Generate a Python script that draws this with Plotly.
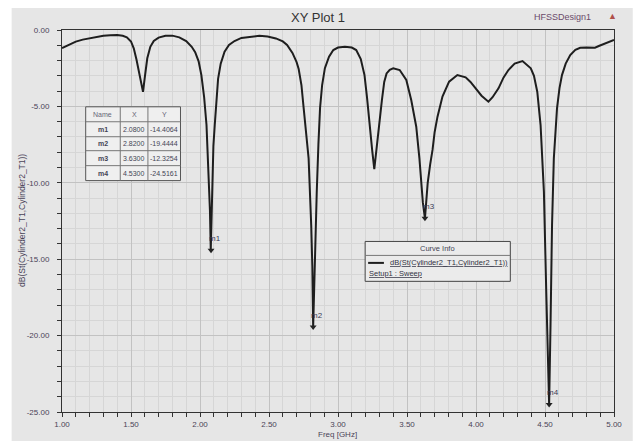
import plotly.graph_objects as go

# ---- data ----
freq_ghz = [1.00, 1.05, 1.10, 1.15, 1.20, 1.25, 1.30, 1.35, 1.40, 1.44, 1.47, 1.50, 1.52, 1.54, 1.56,
            1.575, 1.587, 1.60, 1.618, 1.64, 1.665, 1.70, 1.75, 1.80, 1.85, 1.90, 1.94, 1.965, 1.99,
            2.01, 2.03, 2.047, 2.064, 2.072, 2.078, 2.083, 2.088, 2.097, 2.107, 2.12, 2.131, 2.15,
            2.178, 2.21, 2.25, 2.30, 2.37, 2.43, 2.49, 2.55, 2.60, 2.631, 2.67, 2.70, 2.715, 2.735,
            2.751, 2.77, 2.787, 2.806, 2.814, 2.82, 2.826, 2.834, 2.846, 2.858, 2.87, 2.885, 2.905,
            2.935, 2.966, 3.00, 3.05, 3.10, 3.132, 3.165, 3.192, 3.21, 3.228, 3.248, 3.263, 3.28,
            3.30, 3.318, 3.335, 3.352, 3.375, 3.40, 3.447, 3.495, 3.531, 3.567, 3.59, 3.602, 3.615,
            3.63, 3.64, 3.65, 3.668, 3.685, 3.70, 3.721, 3.757, 3.805, 3.865, 3.925, 3.96, 3.996,
            4.04, 4.09, 4.12, 4.163, 4.20, 4.235, 4.28, 4.337, 4.397, 4.42, 4.444, 4.468, 4.492,
            4.509, 4.523, 4.53, 4.54, 4.551, 4.564, 4.575, 4.587, 4.605, 4.623, 4.65, 4.683, 4.72,
            4.755, 4.80, 4.862, 4.89, 4.921, 4.96, 5.00]
s11_db = [-1.18, -0.95, -0.76, -0.63, -0.54, -0.45, -0.38, -0.34, -0.33, -0.38, -0.48, -0.75, -1.2,
          -1.95, -2.8, -3.5, -4.05, -3.1, -1.85, -1.1, -0.72, -0.50, -0.38, -0.37, -0.48, -0.72,
          -1.10, -1.45, -2.05, -2.95, -4.4, -6.2, -9.5, -11.8, -14.41, -12.2, -9.5, -7.6, -6.2,
          -4.4, -3.2, -2.2, -1.42, -0.98, -0.72, -0.52, -0.42, -0.38, -0.43, -0.55, -0.75, -0.98,
          -1.5, -2.1, -2.55, -3.6, -5.1, -6.8, -8.4, -12.8, -15.5, -19.44, -17.0, -14.9, -10.6,
          -7.5, -5.1, -3.6, -2.5, -1.75, -1.31, -1.15, -1.09, -1.15, -1.31, -1.9, -2.95, -4.4,
          -6.2, -7.9, -9.1, -7.6, -6.2, -4.6, -3.4, -2.84, -2.6, -2.51, -2.62, -3.27, -4.6, -6.33,
          -8.4, -10.0, -11.3, -12.33, -11.2, -10.0, -8.8, -7.85, -6.7, -5.67, -4.35, -3.38, -2.95,
          -3.1, -3.4, -3.82, -4.3, -4.69, -4.4, -3.82, -3.1, -2.62, -2.2, -2.03, -2.51, -3.0,
          -4.04, -6.22, -10.58, -17.1, -21.5, -24.52, -19.3, -12.76, -8.4, -6.6, -5.13, -3.8,
          -2.95, -2.2, -1.64, -1.3, -1.16, -1.15, -1.16, -1.05, -0.94, -0.8, -0.65]

marker_names = ["m1", "m2", "m3", "m4"]
marker_x = [2.0800, 2.8200, 3.6300, 4.5300]
marker_y = [-14.4064, -19.4444, -12.3254, -24.5161]

x_ticks = [1.00, 1.50, 2.00, 2.50, 3.00, 3.50, 4.00, 4.50, 5.00]
y_ticks = [0.00, -5.00, -10.00, -15.00, -20.00, -25.00]

trace_name = "dB(St(Cylinder2_T1,Cylinder2_T1))"
sweep_name = "Setup1 : Sweep"

# ---- layout helpers (pixel -> paper) ----
W, H = 634, 441
L, R, T, B = 62, 621, 30, 413
def PX(x):
    return (x - L) / (R - L)
def PY(y):
    return (B - y) / (B - T)

FONT = "Liberation Sans, Arial, sans-serif"
TXT = "#4a4458"

fig = go.Figure()
fig.add_trace(go.Scatter(x=freq_ghz, y=s11_db, mode="lines",
                         line=dict(color="#1e1e1e", width=2), showlegend=False,
                         hoverinfo="x+y"))
fig.add_trace(go.Scatter(x=marker_x, y=marker_y, mode="markers",
                         marker=dict(symbol="triangle-down", size=6, color="#222222"),
                         showlegend=False))

shapes = []
ann = []

def text(px, py, t, size, color, xanchor="center", angle=0):
    ann.append(dict(x=PX(px), y=PY(py), xref="paper", yref="paper", text=t,
                    showarrow=False, xanchor=xanchor, yanchor="middle", textangle=angle,
                    font=dict(size=size, color=color, family=FONT)))

# outer gray background
shapes.append(dict(type="rect", xref="paper", yref="paper", x0=PX(11), x1=PX(640),
                   y0=PY(445), y1=PY(8), fillcolor="#e6e6e6", line=dict(width=0), layer="below"))

# marker labels
for n, x, y in zip(marker_names, marker_x, marker_y):
    ann.append(dict(x=x, y=y, xref="x", yref="y", text=n, showarrow=False,
                    xanchor="left", yanchor="middle", xshift=-4, yshift=12,
                    font=dict(size=8, color="#3a3a55", family=FONT)))

# marker table
cols = [86, 121, 149, 182]
rows = [107, 122, 137, 151, 166, 181]
shapes.append(dict(type="rect", xref="paper", yref="paper", x0=PX(cols[0]), x1=PX(cols[-1]),
                   y0=PY(rows[-1]), y1=PY(rows[0]), fillcolor="#efefef",
                   line=dict(color="#555555", width=1)))
for c in cols[1:-1]:
    shapes.append(dict(type="line", xref="paper", yref="paper", x0=PX(c), x1=PX(c),
                       y0=PY(rows[-1]), y1=PY(rows[0]), line=dict(color="#777777", width=1)))
for r in rows[1:-1]:
    shapes.append(dict(type="line", xref="paper", yref="paper", x0=PX(cols[0]), x1=PX(cols[-1]),
                       y0=PY(r), y1=PY(r), line=dict(color="#777777", width=1)))
headers = ["Name", "X", "Y"]
for i, h in enumerate(headers):
    text((cols[i] + cols[i + 1]) / 2, (rows[0] + rows[1]) / 2, h, 7, "#666677")
for j, (n, x, y) in enumerate(zip(marker_names, marker_x, marker_y)):
    yc = (rows[j + 1] + rows[j + 2]) / 2
    vals = [f"<b>{n}</b>", f"{x:.4f}", f"{y:.4f}"]
    for i, v in enumerate(vals):
        text((cols[i] + cols[i + 1]) / 2, yc, v, 7, "#444455")

# curve info box
shapes.append(dict(type="rect", xref="paper", yref="paper", x0=PX(369), x1=PX(516),
                   y0=PY(282), y1=PY(242), fillcolor="#ebebeb",
                   line=dict(color="#444444", width=1)))
shapes.append(dict(type="line", xref="paper", yref="paper", x0=PX(369), x1=PX(516),
                   y0=PY(256), y1=PY(256), line=dict(color="#777777", width=1)))
shapes.append(dict(type="line", xref="paper", yref="paper", x0=PX(372), x1=PX(388),
                   y0=PY(263.5), y1=PY(263.5), line=dict(color="#1e1e1e", width=2)))
text(442, 249, "Curve Info", 7.5, "#444455")
text(392, 263.5, f"<u>{trace_name}</u>", 7.5, "#333344", xanchor="left")
text(371, 274, f"<u>{sweep_name}</u>", 7.5, "#333344", xanchor="left")

# title & design name
text(321, 17, "XY Plot 1", 13, "#333333")
text(600, 17, "HFSSDesign1", 9, "#6a4a6a", xanchor="right")
text(619, 16, "▲", 9, "#b0504a")

# axis titles
text(341, 435.5, "Freq [GHz]", 8, TXT)
text(21, 221, trace_name, 8.5, TXT, angle=-90)

fig.update_layout(
    width=W, height=H,
    margin=dict(l=L, r=W - R, t=T, b=H - B, pad=0),
    paper_bgcolor="white", plot_bgcolor="#e6e6e6",
    shapes=shapes, annotations=ann,
    font=dict(family=FONT, size=8, color=TXT),
    xaxis=dict(range=[1.0, 5.0], tickvals=x_ticks, ticktext=[f"{v:.2f}" for v in x_ticks],
               showline=True, linecolor="#333333", linewidth=1, mirror=True,
               ticks="outside", ticklen=4, tickcolor="#333333",
               gridcolor="#c2c2c2", gridwidth=1, zeroline=False,
               minor=dict(dtick=0.1, tick0=1.0, showgrid=True, gridcolor="#d6d6d6",
                          ticks="outside", ticklen=4, tickcolor="#333333"),
               tickfont=dict(size=8, color=TXT, family=FONT), ticklabelstandoff=0),
    yaxis=dict(range=[-25.0, 0.0], tickvals=y_ticks, ticktext=[f"{v:.2f}" for v in y_ticks],
               showline=True, linecolor="#333333", linewidth=1, mirror=True,
               ticks="outside", ticklen=4, tickcolor="#333333",
               gridcolor="#c2c2c2", gridwidth=1, zeroline=False,
               minor=dict(dtick=1, tick0=0, showgrid=True, gridcolor="#d6d6d6",
                          ticks="outside", ticklen=4, tickcolor="#333333"),
               tickfont=dict(size=8, color=TXT, family=FONT), ticklabelstandoff=6),
)

fig.write_html("out.html", config={"displayModeBar": False},
               post_script="document.body.style.margin='0px';")
